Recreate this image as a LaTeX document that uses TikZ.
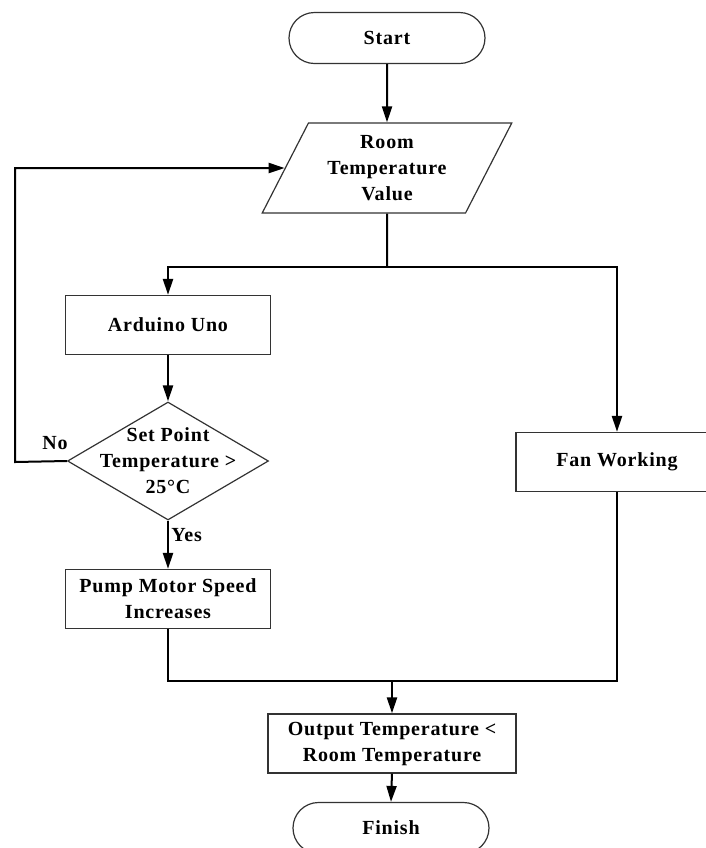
\documentclass[tikz,border=0pt]{standalone}
\usepackage{fontspec}
\setmainfont{Liberation Serif}[LetterSpace=4]
\usetikzlibrary{arrows.meta,shapes.geometric,shapes.misc}

\begin{document}
\begin{tikzpicture}[
  x=0.5pt,y=-0.5pt,
  font=\fontsize{10}{13}\selectfont\bfseries,
  box/.style={draw=black!80,line width=0.6pt,align=center,inner sep=2pt},
  terminal/.style={box,rounded rectangle,minimum width=102pt,minimum height=25.5pt},
  io/.style={box,trapezium,trapezium left angle=63,trapezium right angle=117,
    trapezium stretches=true,minimum width=125pt,minimum height=45pt},
  process/.style={box,rectangle,minimum width=102.5pt,minimum height=29.5pt},
  decision/.style={box,diamond,minimum width=100.5pt,minimum height=59pt,inner sep=0pt},
  flow/.style={-{Triangle[length=8pt,width=5pt]},draw=black,line width=1pt},
  link/.style={draw=black,line width=1pt},
  condition/.style={inner sep=1pt}]
\clip (0,0) rectangle (706,848);
\useasboundingbox (0,0) rectangle (706,848);

\node[terminal] (start) at (387,38) {Start};
\node[io] (room) at (387,168) {Room\\Temperature\\Value};
\node[process] (arduino) at (168,325) {Arduino Uno};
\node[decision,label={[align=center,font=\fontsize{10}{13}\selectfont\bfseries]center:Set Point\\Temperature >\\25°C}] (check) at (168,461) {};
\node[process] (pump) at (168,599) {Pump Motor Speed\\Increases};
\node[process,minimum width=101pt] (fan) at (617,462) {Fan Working};
\node[process,minimum width=124pt] (output) at (392,743.5) {Output Temperature <\\Room Temperature};
\node[terminal,minimum width=102pt] (finish) at (391,828) {Finish};

\coordinate (split) at (387,267);
\coordinate (back) at (15,462);
\coordinate (merge) at (392,681);

\draw[flow] (start.south)--(room.north);
\draw[link] (room.south)--(split);
\draw[flow] (split)-|(arduino.north);
\draw[flow] (split)-|(fan.north);
\draw[flow] (arduino.south)--(check.north);
\draw[flow] (check.west)--(back)|-(room.west);
\node[condition] (no) at (55,443) {No};
\draw[flow] (check.south)--(pump.north);
\node[condition,anchor=west] (yes) at (169,535) {Yes};
\draw[link] (pump.south)|-(merge);
\draw[link] (fan.south)|-(merge);
\draw[flow] (merge)--(output.north);
\draw[flow] (output.south)--(finish.north);
\end{tikzpicture}
\end{document}
